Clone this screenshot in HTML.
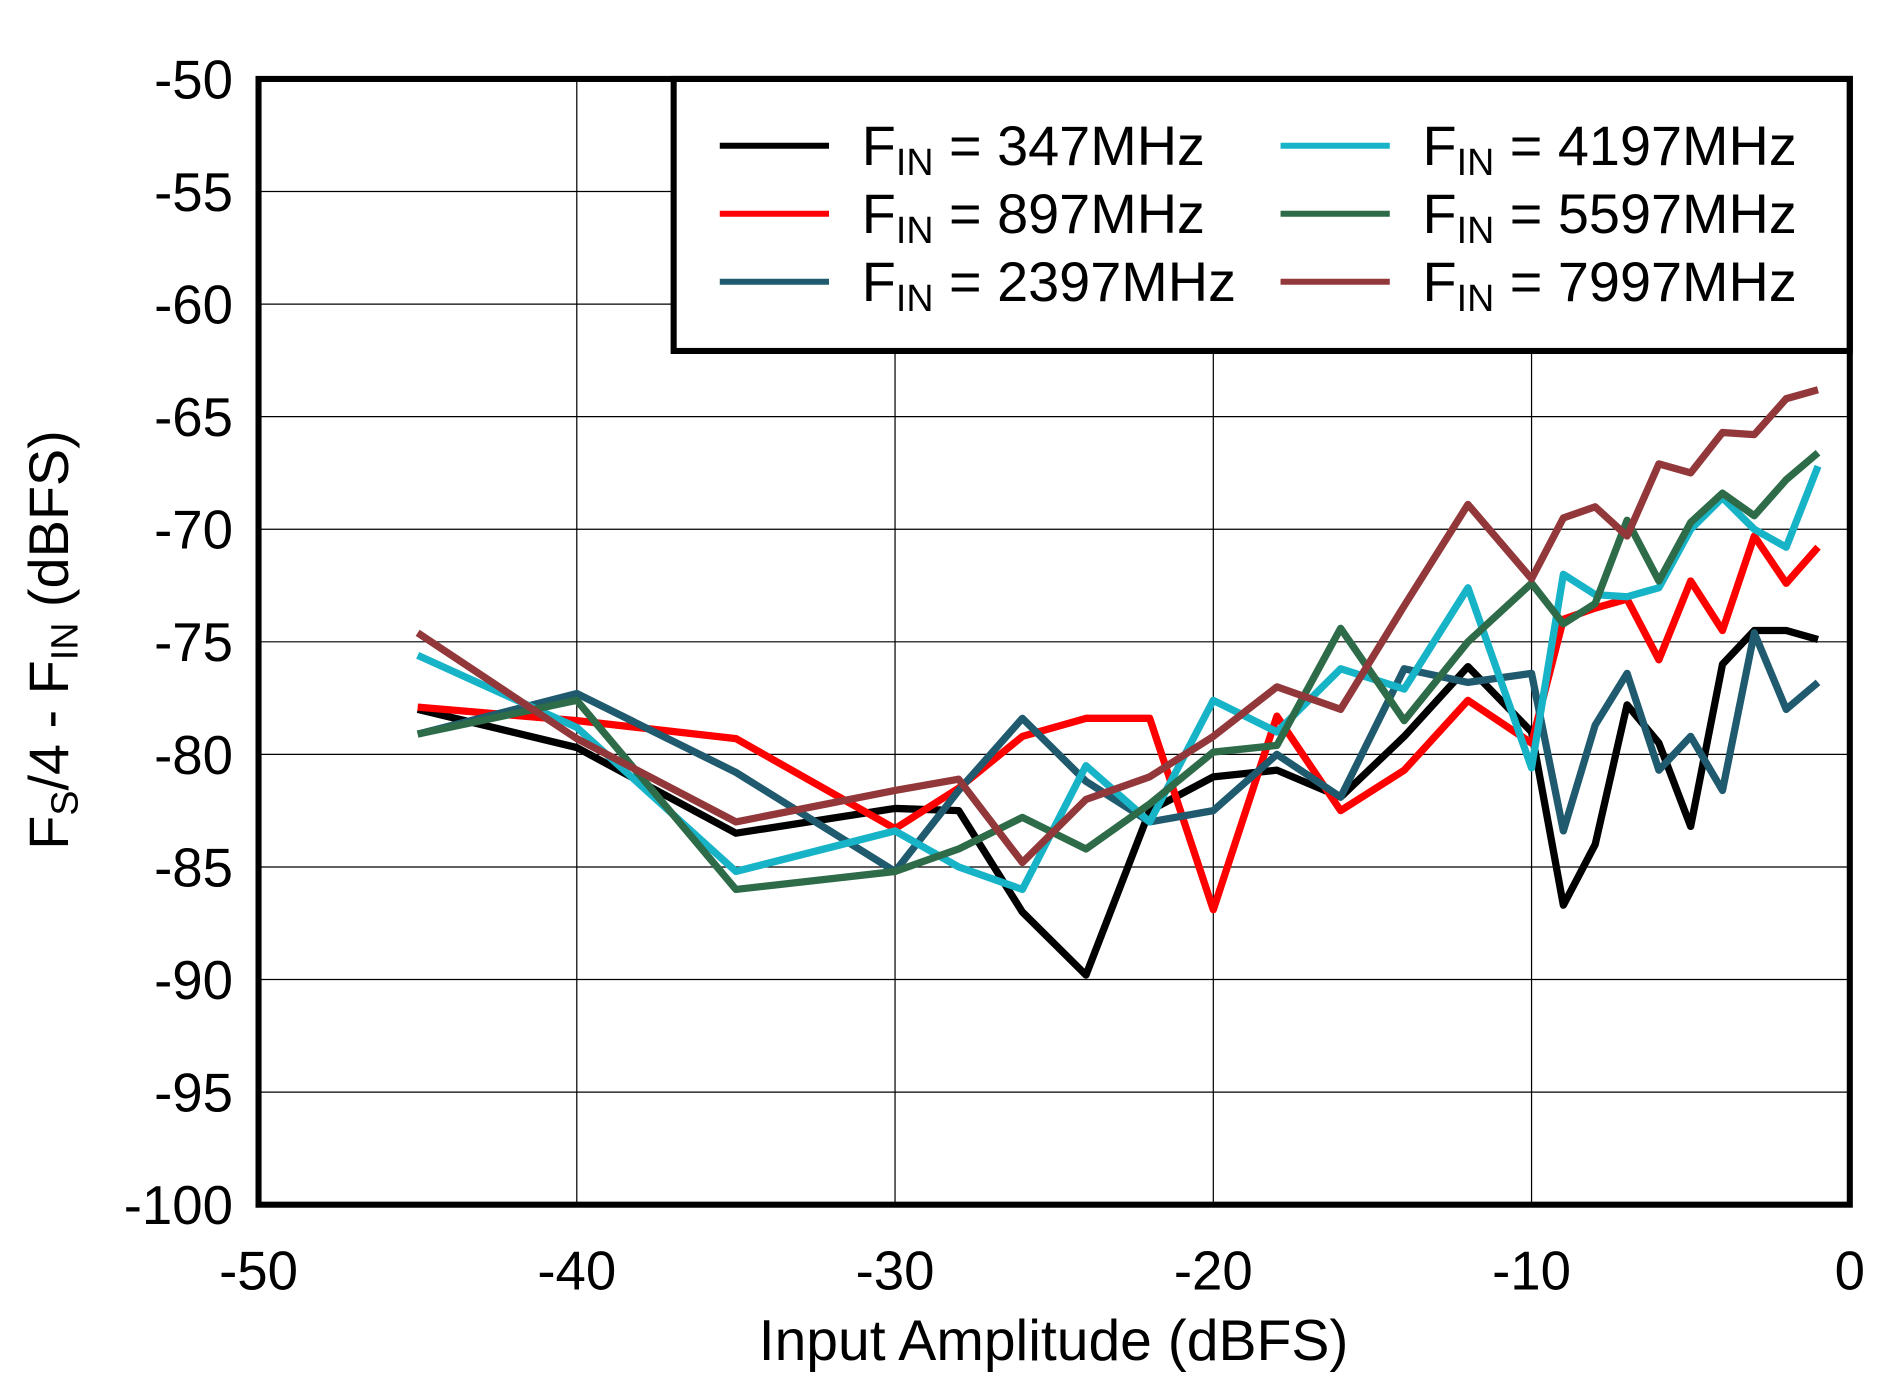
<!DOCTYPE html>
<html><head><style>
html,body{margin:0;padding:0;background:#fff;}
svg{display:block;}
text{font-family:"Liberation Sans",sans-serif;fill:#000;}
</style></head><body>
<svg id="s" width="1902" height="1382" viewBox="0 0 1567 1138" preserveAspectRatio="none" xmlns="http://www.w3.org/2000/svg">
<g id="grid" stroke="#000" stroke-width="1"></g>
<g id="series" fill="none" stroke-width="6" stroke-linejoin="round"></g>
<rect x="555" y="65" width="969" height="224" fill="#fff" stroke="#000" stroke-width="5"/>
<rect x="213" y="65" width="1311" height="927" fill="none" stroke="#000" stroke-width="5"/>
<g stroke-width="5">
<line x1="593" y1="120" x2="683" y2="120" stroke="#000"/>
<line x1="593" y1="176" x2="683" y2="176" stroke="#ff0000"/>
<line x1="593" y1="232" x2="683" y2="232" stroke="#1f5a6e"/>
<line x1="1055" y1="120" x2="1145" y2="120" stroke="#17b4c8"/>
<line x1="1055" y1="176" x2="1145" y2="176" stroke="#2e6b48"/>
<line x1="1055" y1="232" x2="1145" y2="232" stroke="#93383a"/>
</g>
<g font-size="46">
<text x="710" y="136">F<tspan font-size="31" dy="8">IN</tspan><tspan dy="-8"> = 347MHz</tspan></text>
<text x="710" y="192">F<tspan font-size="31" dy="8">IN</tspan><tspan dy="-8"> = 897MHz</tspan></text>
<text x="710" y="248">F<tspan font-size="31" dy="8">IN</tspan><tspan dy="-8"> = 2397MHz</tspan></text>
<text x="1172" y="136">F<tspan font-size="31" dy="8">IN</tspan><tspan dy="-8"> = 4197MHz</tspan></text>
<text x="1172" y="192">F<tspan font-size="31" dy="8">IN</tspan><tspan dy="-8"> = 5597MHz</tspan></text>
<text x="1172" y="248">F<tspan font-size="31" dy="8">IN</tspan><tspan dy="-8"> = 7997MHz</tspan></text>
</g>
<g id="yl" font-size="45" text-anchor="end"></g>
<g id="xl" font-size="45" text-anchor="middle"></g>
<text x="868" y="1120" font-size="47" text-anchor="middle">Input Amplitude  (dBFS)</text>
<text transform="translate(56,527) rotate(-90)" font-size="46" text-anchor="middle">F<tspan font-size="31" dy="8">S</tspan><tspan dy="-8">/4 - F</tspan><tspan font-size="31" dy="8">IN</tspan><tspan dy="-8">  (dBFS)</tspan></text>
</svg>
<script>
var L=213,R=1524,T=65,B=992;
function X(v){return L+(v+50)*(R-L)/50;}
function Y(v){return T+(-50-v)*(B-T)/50;}
var ns="http://www.w3.org/2000/svg";
function el(p,n,a,t){var e=document.createElementNS(ns,n);for(var k in a)e.setAttribute(k,a[k]);if(t!==undefined)e.textContent=t;document.getElementById(p).appendChild(e);}
for(var i=1;i<10;i++){el("grid","line",{x1:L,x2:R,y1:Y(-50-5*i),y2:Y(-50-5*i)});}
for(var i=1;i<5;i++){el("grid","line",{x1:X(-50+10*i),x2:X(-50+10*i),y1:T,y2:B});}
for(var i=0;i<=10;i++){var v=-50-5*i;el("yl","text",{x:192,y:Y(v)+16},String(v));}
for(var i=0;i<=5;i++){var v=-50+10*i;el("xl","text",{x:X(v),y:1062},String(v));}
var xs=[-45,-40,-35,-30,-28,-26,-24,-22,-20,-18,-16,-14,-12,-10,-9,-8,-7,-6,-5,-4,-3,-2,-1];
var S=[
["#000",[-78,-79.7,-83.5,-82.4,-82.5,-87,-89.8,-82.5,-81,-80.7,-81.9,-79.2,-76.1,-79,-86.7,-84,-77.8,-79.5,-83.2,-76,-74.5,-74.5,-74.9]],
["#ff0000",[-77.9,-78.5,-79.3,-83.3,-81.5,-79.2,-78.4,-78.4,-86.9,-78.3,-82.5,-80.7,-77.6,-79.5,-74,-73.5,-73.1,-75.8,-72.3,-74.5,-70.3,-72.4,-70.8]],
["#1f5a6e",[-79.1,-77.3,-80.8,-85.2,-81.6,-78.4,-81.2,-83,-82.5,-80,-81.9,-76.2,-76.8,-76.4,-83.4,-78.7,-76.4,-80.7,-79.2,-81.6,-74.6,-78,-76.8]],
["#17b4c8",[-75.6,-78.8,-85.2,-83.4,-85,-86,-80.5,-83,-77.6,-79,-76.2,-77.1,-72.6,-80.6,-72,-72.9,-73,-72.6,-70,-68.6,-70,-70.8,-67.2]],
["#2e6b48",[-79.1,-77.6,-86,-85.2,-84.2,-82.8,-84.2,-82.2,-79.9,-79.6,-74.4,-78.5,-75,-72.4,-74.2,-73.3,-69.6,-72.3,-69.7,-68.4,-69.4,-67.8,-66.6]],
["#93383a",[-74.6,-79.3,-83,-81.6,-81.1,-84.8,-82,-81,-79.2,-77,-78,-73.4,-68.9,-72.2,-69.5,-69,-70.3,-67.1,-67.5,-65.7,-65.8,-64.2,-63.8]]
];
S.forEach(function(s){var p=xs.map(function(x,i){return X(x).toFixed(1)+","+Y(s[1][i]).toFixed(1);}).join(" ");el("series","polyline",{points:p,stroke:s[0]});});
</script>
</body></html>
